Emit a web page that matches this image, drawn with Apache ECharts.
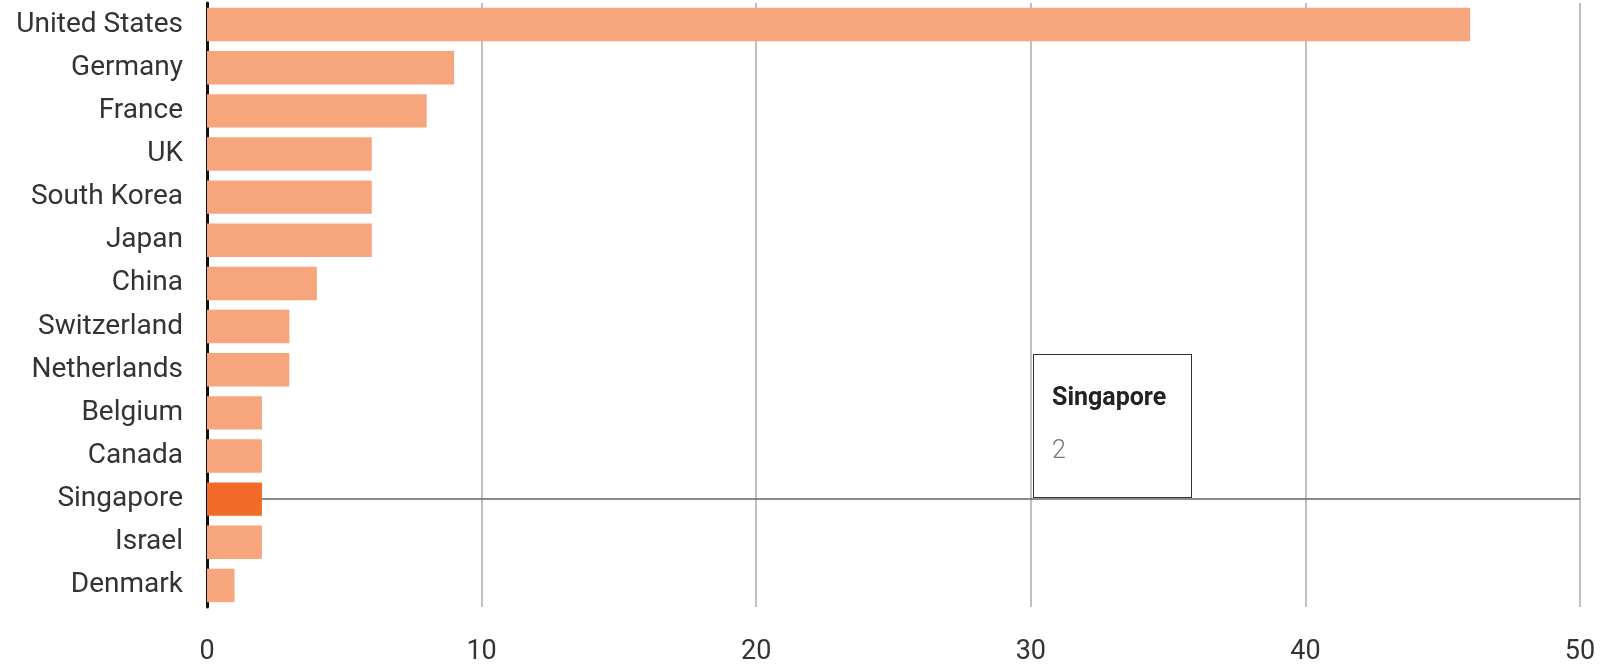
<!DOCTYPE html>
<html>
<head>
<meta charset="utf-8">
<script src="https://cdn.jsdelivr.net/npm/echarts@6/dist/echarts.min.js"></script>
<style>
  html, body { margin: 0; padding: 0; background: #fff; }
  #chart { width: 1606px; height: 666px; }
</style>
</head>
<body>
<div id="chart"></div>
<script>
const countries = [
  "United States", "Germany", "France", "UK", "South Korea", "Japan", "China",
  "Switzerland", "Netherlands", "Belgium", "Canada", "Singapore", "Israel", "Denmark"
]
const values = [46, 9, 8, 6, 6, 6, 4, 3, 3, 2, 2, 2, 2, 1]
const xTicks = [0, 10, 20, 30, 40, 50]
const highlighted = "Singapore"

const font = "Roboto"
const chart = echarts.init(document.getElementById("chart"), null, { renderer: "canvas" })

chart.setOption({
  animation: false,
  grid: { left: 207, right: 26, top: 3, bottom: 58, containLabel: false },
  tooltip: {
    trigger: "axis",
    alwaysShowContent: true,
    transitionDuration: 0,
    position: [1033, 354],
    padding: 0,
    borderWidth: 0,
    backgroundColor: "transparent",
    extraCssText: "box-shadow:none;border-radius:0;",
    axisPointer: {
      type: "line",
      z: 1,
      lineStyle: { color: "#666", width: 1.5, type: "solid" }
    },
    formatter: (params) => {
      const p = params[0]
      return `<div style="width:159px;height:144px;box-sizing:border-box;border:1.5px solid #333;background:#fff;padding:27px 18px;font-family:${font};">` +
        `<div style="font-weight:bold;font-size:25px;color:#222;line-height:30px;">${p.name}</div>` +
        `<div style="font-size:25px;color:#777;font-weight:300;margin-top:23px;line-height:30px;">${p.value}</div></div>`
    }
  },
  xAxis: {
    type: "value",
    min: xTicks[0],
    max: xTicks[xTicks.length - 1],
    interval: 10,
    axisLine: { show: false },
    axisTick: { show: false },
    splitLine: { show: true, lineStyle: { color: "#aaa", width: 1.5 } },
    axisLabel: { color: "#333", fontSize: 27, fontFamily: font, margin: 32 }
  },
  yAxis: {
    type: "category",
    inverse: true,
    data: countries,
    axisLine: { show: true, lineStyle: { color: "#111", width: 3 } },
    axisTick: { show: false },
    axisLabel: { color: "#333", fontSize: 28, fontFamily: font, margin: 24 }
  },
  series: [
    {
      type: "bar",
      barCategoryGap: "22.5%",
      z: 2,
      data: values.map((v, i) => ({
        value: v,
        itemStyle: { color: countries[i] === highlighted ? "#f26a28" : "#f6a57d" }
      })),
      emphasis: { disabled: true }
    }
  ]
})

chart.dispatchAction({ type: "showTip", seriesIndex: 0, dataIndex: countries.indexOf(highlighted) })
</script>
</body>
</html>
